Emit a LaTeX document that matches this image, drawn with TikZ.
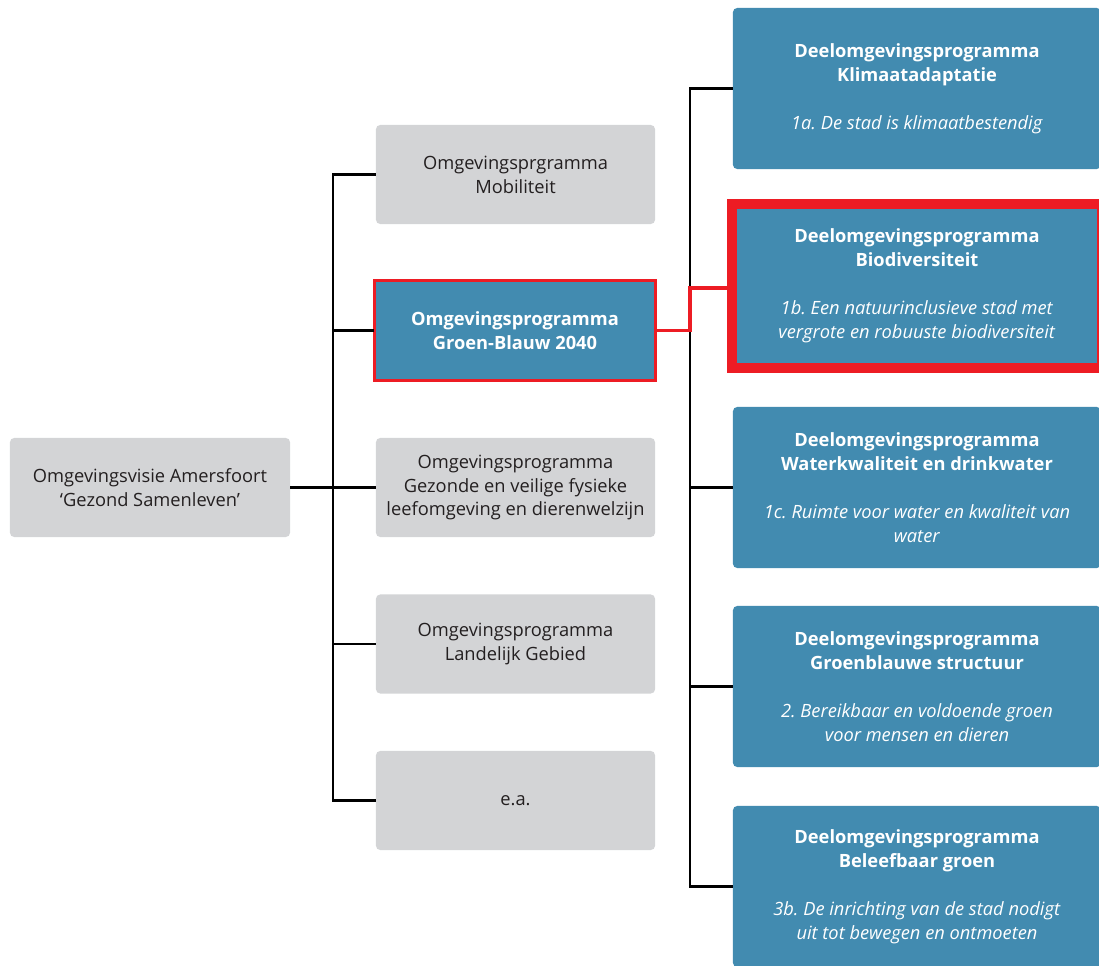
\documentclass[tikz,border=0pt]{standalone}
\usepackage{fontspec}
\setmainfont{Open Sans}
\usetikzlibrary{positioning, calc}
\definecolor{boxgray}{HTML}{D3D4D6}
\definecolor{boxblue}{HTML}{428BB0}
\definecolor{markred}{HTML}{ED1C24}
\definecolor{txtdark}{HTML}{231F20}
\frenchspacing

\begin{document}
\begin{tikzpicture}[x=0.025cm, y=-0.025cm]
	\tikzstyle{grijs} = [
	fill=boxgray,
	rounded corners=3pt,
	text=txtdark,
	align=center,
	inner sep=0pt,
	outer sep=0pt,
	minimum width=6.975cm,
	minimum height=2.475cm,
	font=\fontsize{13}{17}\selectfont
	]
	\tikzstyle{deel} = [
	fill=boxblue,
	rounded corners=3pt,
	text=white,
	align=center,
	inner sep=0pt,
	outer sep=0pt,
	minimum width=9.2cm,
	minimum height=4.025cm,
	font=\fontsize{13}{17}\selectfont
	]
	\tikzstyle{lijn} = [line width=1.7pt, black]
	\tikzstyle{rodelijn} = [line width=2.5pt, markred]
	
	\useasboundingbox (0,0) rectangle (1099,966);
	\clip (0,0) rectangle (1099,966);
	
	% visie en programma's
	\node[grijs, minimum width=7cm] (visie) at (150,487.5) {Omgevingsvisie Amersfoort\\‘Gezond Samenleven’};
	\node[grijs] (mobiliteit) at (515.5,174.5) {Omgevingsprgramma\\Mobiliteit};
	\node[grijs, fill=boxblue, text=white, draw=markred, line width=2.2pt, rounded corners=0pt,
	minimum width=7.025cm, minimum height=2.5cm, font=\fontsize{13}{17}\selectfont\bfseries] (groenblauw) at (515,330.5) {Omgevingsprogramma\\Groen-Blauw 2040};
	\node[grijs] (gezond) at (515.5,487.5) {Omgevingsprogramma\\Gezonde en veilige fysieke\\leefomgeving en dierenwelzijn};
	\node[grijs] (landelijk) at (515.5,644) {Omgevingsprogramma\\Landelijk Gebied};
	\node[grijs] (ea) at (515.5,800.5) {e.a.};
	
	% deelprogramma's
	\node[deel] (klimaat) at (917,88.5) {\textbf{Deelomgevingsprogramma}\\\textbf{Klimaatadaptatie}\\[17pt]\textit{1a. De stad is klimaatbestendig}};
	\node[deel, draw=markred, line width=7.1pt, rounded corners=0pt, minimum width=9.25cm, minimum height=4.1cm] (bio) at (917,286) {\textbf{Deelomgevingsprogramma}\\\textbf{Biodiversiteit}\\[17pt]\textit{1b. Een natuurinclusieve stad met}\\\textit{vergrote en robuuste biodiversiteit}};
	\node[deel] (water) at (917,487.5) {\textbf{Deelomgevingsprogramma}\\\textbf{Waterkwaliteit en drinkwater}\\[17pt]\textit{1c. Ruimte voor water en kwaliteit van}\\\textit{water}};
	\node[deel] (structuur) at (917,686.5) {\textbf{Deelomgevingsprogramma}\\\textbf{Groenblauwe structuur}\\[17pt]\textit{2. Bereikbaar en voldoende groen}\\\textit{voor mensen en dieren}};
	\node[deel] (beleef) at (917,886.5) {\textbf{Deelomgevingsprogramma}\\\textbf{Beleefbaar groen}\\[17pt]\textit{3b. De inrichting van de stad nodigt}\\\textit{uit tot bewegen en ontmoeten}};
	
	\coordinate (stam1) at (333,487.5);
	\coordinate (stam2) at (690,487.5);
	
	\draw[lijn] (visie) -- (gezond);
	\draw[lijn] (mobiliteit.west) -| (stam1) |- (ea.west);
	\draw[lijn] (groenblauw.west) -- (groenblauw.west -| stam1);
	\draw[lijn] (landelijk.west) -- (landelijk.west -| stam1);
	
	\draw[lijn] (klimaat.west) -| (stam2) |- (beleef.west);
	\draw[lijn] (water.west) -- (water.west -| stam2);
	\draw[lijn] (structuur.west) -- (structuur.west -| stam2);
	\draw[rodelijn] (groenblauw.east) -| ($(bio.west -| stam2)+(0,2)$) -- ($(bio.west)+(0,2)$);
\end{tikzpicture}
\end{document}
